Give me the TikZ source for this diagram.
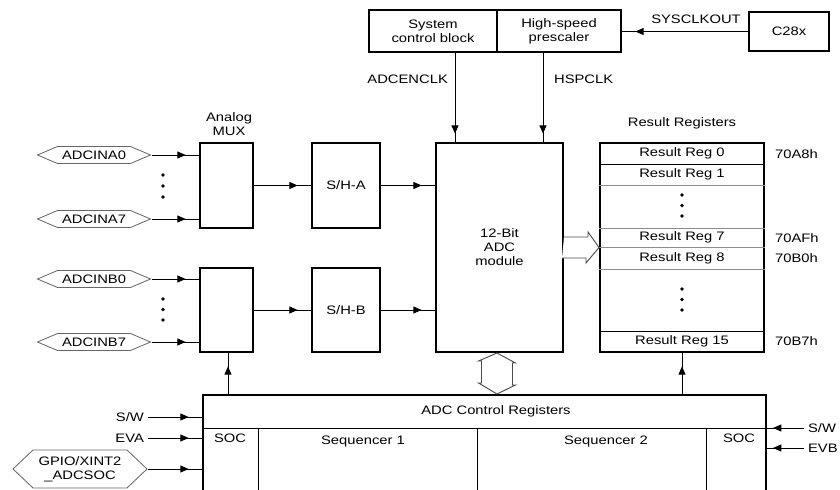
\documentclass[tikz,border=0pt]{standalone}
\usepackage{fontspec}
\setmainfont[FakeStretch=1.2]{Liberation Sans}
\usetikzlibrary{arrows.meta,positioning,shapes,calc,decorations.markings}

\tikzset{
  box/.style={draw, line width=1.7pt, inner sep=0pt, align=center},
  sig/.style={line width=0.75pt, postaction={decorate},
    decoration={markings, mark=at position -#1 with {\arrow{Triangle[length=2.5mm,width=2.1mm]}}}},
  sig/.default=4mm,
  port/.style={signal, signal to=east and west, signal pointer angle=#1, draw=black!60, line width=0.7pt, inner sep=0pt},
  port/.default=46,
  fat/.style={draw=black!70, line width=0.8pt, fill=white},
  sep/.style={line width=0.8pt}
}

\begin{document}
\begin{tikzpicture}[x=0.3mm, y=-0.3mm, every node/.style={font=\fontsize{10.5}{12}\selectfont}]
  \useasboundingbox (0,0) rectangle (840,490);
  \clip (0,0) rectangle (840,490);
  % clock blocks
  \node[box, minimum width=38.4mm, minimum height=12.6mm] (sys) at (433,31) {System\\control block};
  \node[box, minimum width=37.2mm, minimum height=12.6mm] (hsp) at (559,31) {High-speed\\prescaler};
  \node[box, minimum width=24mm, minimum height=11.7mm] (cpu) at (789,31.5) {C28x};
  \node (sysclk) at (696,19) {SYSCLKOUT};
  \node[anchor=east] (enclk) at (452,79) {ADCENCLK};
  \node[anchor=west] (hspclk) at (550,79) {HSPCLK};
  % converter path
  \node[box, minimum width=38.1mm, minimum height=62.7mm] (adc) at (499.5,247.5) {12-Bit\\ADC\\module};
  \node[box, minimum width=15.9mm, minimum height=25.5mm] (muxa) at (226.5,185.5) {};
  \node[box, minimum width=20.4mm, minimum height=25.5mm] (sha) at (346,185.5) {S/H-A};
  \node[box, minimum width=15.9mm, minimum height=25.2mm] (muxb) at (226.5,310) {};
  \node[box, minimum width=20.4mm, minimum height=25.2mm] (shb) at (346,310) {S/H-B};
  \node[align=center] (muxlbl) at (229,124) {Analog\\MUX};
  % result registers
  \node (reslbl) at (682,123) {Result Registers};
  \node[box, minimum width=49.2mm, minimum height=62.7mm] (res) at (682,247.5) {};
  \foreach \y/\c in {164/black,185/black!45,228/black!45,247/black!45,269/black!45,331/black}
    \draw[sep,\c] (res.west |- 0,\y) -- (res.east |- 0,\y);
  \foreach \n/\y in {0/153.5,1/174.5,7/237.5,8/258,15/341.5}
    \node (r\n) at (682,\y) {Result Reg \n};
  \foreach \y in {195,205.5,216,289,299.5,310}
    \fill (682,\y) circle (1.5pt);
  \node[anchor=west] (a0) at (771,154) {70A8h};
  \node[anchor=west] (a7) at (771,238) {70AFh};
  \node[anchor=west] (a8) at (771,258) {70B0h};
  \node[anchor=west] (a15) at (771,341) {70B7h};
  % analog inputs
  \node[port, minimum width=33.9mm, minimum height=5.1mm] (ina0) at (94,155) {ADCINA0};
  \node[port, minimum width=33.9mm, minimum height=5.1mm] (ina7) at (94,219) {ADCINA7};
  \node[port, minimum width=33.9mm, minimum height=5.1mm] (inb0) at (94,279) {ADCINB0};
  \node[port, minimum width=33.9mm, minimum height=5.1mm] (inb7) at (94,342) {ADCINB7};
  \foreach \y in {175,186,197,299,309.5,320}
    \fill (163,\y) circle (1.5pt);
  % control registers
  \node[box, minimum width=168.9mm, minimum height=34.5mm] (ctrl) at (484.5,452.5) {};
  \draw[sep] (ctrl.west |- 0,428) -- (ctrl.east |- 0,428);
  \foreach \x in {258,477,706}
    \draw[sep] (\x,428) -- (\x,500);
  \node (ctrllbl) at (496,411) {ADC Control Registers};
  \node (soca) at (230,438) {SOC};
  \node (seq1) at (363,441) {Sequencer 1};
  \node (seq2) at (606,441) {Sequencer 2};
  \node (socb) at (739,438) {SOC};
  \node[anchor=east] (swa) at (148,417) {S/W};
  \node[anchor=east] (eva) at (148,438) {EVA};
  \node[port=87, minimum width=40.2mm, minimum height=11.4mm, align=center] (gpio) at (80,469) {GPIO/XINT2\\\_ADCSOC};
  \node[anchor=west] (swb) at (804,428) {S/W};
  \node[anchor=west] (evb) at (804,448) {EVB};
  % connectors
  \draw[sig] (cpu.west) -- (hsp.east |- cpu.west);
  \draw[sig=2.5mm] (sys.south -| 455,0) -- (adc.north -| 455,0);
  \draw[sig=2.5mm] (hsp.south -| 543,0) -- (adc.north -| 543,0);
  \foreach \i in {ina0,ina7}
    \draw[sig] (\i.east) -- (muxa.west |- \i.east);
  \foreach \i in {inb0,inb7}
    \draw[sig] (\i.east) -- (muxb.west |- \i.east);
  \draw[sig] (muxa.east) -- (sha.west);
  \draw[sig] (muxb.east) -- (shb.west);
  \draw[sig] (sha.east) -- (sha.east -| adc.west);
  \draw[sig] (shb.east) -- (shb.east -| adc.west);
  \draw[sig] (ctrl.north -| 228,0) -- (muxb.south -| 228,0);
  \draw[sig] (ctrl.north -| res.south) -- (res.south);
  \foreach \i in {swa,eva,gpio}
    \draw[sig] (\i.east) -- (ctrl.west |- \i.east);
  \foreach \i in {swb,evb}
    \draw[sig=1.8mm] (\i.west) -- (ctrl.east |- \i.west);
  % data buses
  \draw[fat] ($(adc.east)+(0,-10.5)$) -- ++(24,0) -- ++(0,-5) -- (res.west) -- ++(-13,15.5) -- ++(0,-5) -- ++(-24,0);
  \draw[fat] (adc.south -| 497,0) -- ++(18.5,10) -- ++(-3,0) -- ++(0,22) -- ++(3,0) -- (ctrl.north -| 497,0)
    -- ++(-18.5,-11) -- ++(3,0) -- ++(0,-22) -- ++(-3,0) -- cycle;
\end{tikzpicture}
\end{document}
